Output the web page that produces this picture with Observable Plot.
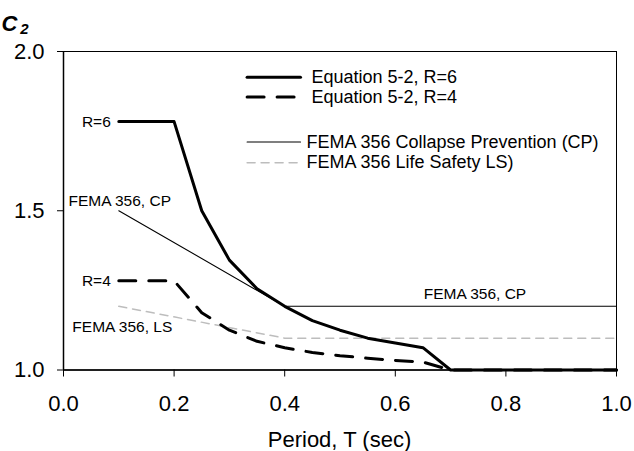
<!DOCTYPE html>
<html>
<head>
<meta charset="utf-8">
<script src="https://cdn.jsdelivr.net/npm/d3@7"></script>
<script src="https://cdn.jsdelivr.net/npm/@observablehq/plot@0.6"></script>
<style>
  html, body { margin: 0; padding: 0; background: #fff; }
  #wrap { position: relative; width: 634px; height: 451px; }
</style>
</head>
<body>
<div id="wrap"></div>
<script>
// ---- data ----
const periods = [0.1, 0.2, 0.25, 0.3, 0.35, 0.4, 0.45, 0.5, 0.55, 0.6, 0.65, 0.7, 1.0];
const c2R6 = [1.78, 1.78, 1.5, 1.345, 1.255, 1.2, 1.155, 1.125, 1.10, 1.085, 1.07, 1.0, 1.0];
const c2R4 = [1.28, 1.28, 1.18, 1.125, 1.09, 1.07, 1.055, 1.045, 1.037, 1.03, 1.025, 1.0, 1.0];
const femaPeriods = [0.1, 0.4, 1.0];
const femaCP = [1.5, 1.2, 1.2];
const femaLS = [1.2, 1.1, 1.1];
const xTicks = [0, 0.2, 0.4, 0.6, 0.8, 1.0];
const yTicks = [1.0, 1.5, 2.0];
const legendLabels = ["Equation 5-2, R=6", "Equation 5-2, R=4", "FEMA 356 Collapse Prevention (CP)", "FEMA 356 Life Safety LS)"];
const noteTexts = ["R=6", "R=4", "FEMA 356, CP", "FEMA 356, LS", "FEMA 356, CP"];
const xTitle = "Period, T (sec)";
const yTitleMain = "C";
const yTitleSub = "2";

// ---- build tables ----
const r6 = periods.map((t, i) => ({T: t, C: c2R6[i]}));
const r4 = periods.map((t, i) => ({T: t, C: c2R4[i]}));
const cp = femaPeriods.map((t, i) => ({T: t, C: femaCP[i]}));
const ls = femaPeriods.map((t, i) => ({T: t, C: femaLS[i]}));

const FONT = "'Liberation Sans', Arial, sans-serif";
const styles = [
  {stroke: "#000", strokeWidth: 3},
  {stroke: "#000", strokeWidth: 3, strokeDasharray: "17,13"},
  {stroke: "#000", strokeWidth: 1.1},
  {stroke: "#bdbdbd", strokeWidth: 1.5, strokeDasharray: "8,6"}
];

// legend placement (data coordinates)
const legRowY = [1.919, 1.857, 1.716, 1.651];
const legX0 = 0.332, legX1 = 0.4286;
const legTextX = [0.4485, 0.4485, 0.4394, 0.4394];
const legendMarks = legendLabels.map((lab, i) =>
  Plot.line([{T: legX0, C: legRowY[i]}, {T: legX1, C: legRowY[i]}], {x: "T", y: "C", ...styles[i]}));
const legendText = legendLabels.map((lab, i) => ({T: legTextX[i], C: legRowY[i], text: lab}));

const notes = [
  {T: 0.1, C: 1.78, text: noteTexts[0], anchor: "end"},
  {T: 0.1, C: 1.28, text: noteTexts[1], anchor: "end"},
  {T: 0.009, C: 1.532, text: noteTexts[2], anchor: "start"},
  {T: 0.016, C: 1.134, text: noteTexts[3], anchor: "start"},
  {T: 0.744, C: 1.237, text: noteTexts[4], anchor: "middle"}
];

const W = 634, H = 451;
const chart = Plot.plot({
  width: W,
  height: H,
  marginLeft: 63,
  marginRight: 18,
  marginTop: 51,
  marginBottom: 81.5,
  style: {fontFamily: FONT, fontSize: "22px", color: "#000", background: "transparent"},
  x: {domain: [0, 1]},
  y: {domain: [1, 2]},
  marks: [
    Plot.frame({stroke: "#000", strokeWidth: 1}),
    Plot.axisX({ticks: xTicks, tickFormat: d => d.toFixed(1), tickSize: 7, tickPadding: 18, fontSize: 22, label: null}),
    Plot.axisY({ticks: yTicks, tickFormat: d => d.toFixed(1), tickSize: 6, tickPadding: 13, fontSize: 22, label: null}),
    Plot.ruleX([0], {stroke: "#000", strokeWidth: 1.5}),
    Plot.ruleY([1], {stroke: "#000", strokeWidth: 1.5}),
    Plot.line(ls, {x: "T", y: "C", ...styles[3]}),
    Plot.line(cp, {x: "T", y: "C", ...styles[2]}),
    Plot.line(r4, {x: "T", y: "C", ...styles[1]}),
    Plot.line(r6, {x: "T", y: "C", ...styles[0]}),
    ...legendMarks,
    Plot.text(legendText, {x: "T", y: "C", text: "text", textAnchor: "start", fontSize: 18, fill: "#000"}),
    Plot.text(notes.filter(d => d.anchor === "end"), {x: "T", y: "C", text: "text", textAnchor: "end", dx: -8, fontSize: 15.5, fill: "#000"}),
    Plot.text(notes.filter(d => d.anchor === "start"), {x: "T", y: "C", text: "text", textAnchor: "start", fontSize: 15.5, fill: "#000"}),
    Plot.text(notes.filter(d => d.anchor === "middle"), {x: "T", y: "C", text: "text", textAnchor: "middle", fontSize: 15.5, fill: "#000"})
  ]
});

// axis titles
const svg = d3.select(chart);
svg.append("text")
  .attr("x", (63 + (W - 18)) / 2)
  .attr("y", 447)
  .attr("text-anchor", "middle")
  .attr("font-family", FONT)
  .attr("font-size", 22)
  .attr("fill", "#000")
  .text(xTitle);
const yt = svg.append("text")
  .attr("x", 15)
  .attr("y", 31)
  .attr("font-family", FONT)
  .attr("font-size", 22)
  .attr("font-weight", "bold")
  .attr("font-style", "italic")
  .attr("fill", "#000");
yt.append("tspan").text(yTitleMain);
yt.append("tspan").attr("dx", 3).attr("dy", 3).attr("font-size", 15).text(yTitleSub);

chart.style.position = "absolute";
chart.style.left = "0";
chart.style.top = "0";
document.getElementById("wrap").appendChild(chart);
</script>
</body>
</html>
